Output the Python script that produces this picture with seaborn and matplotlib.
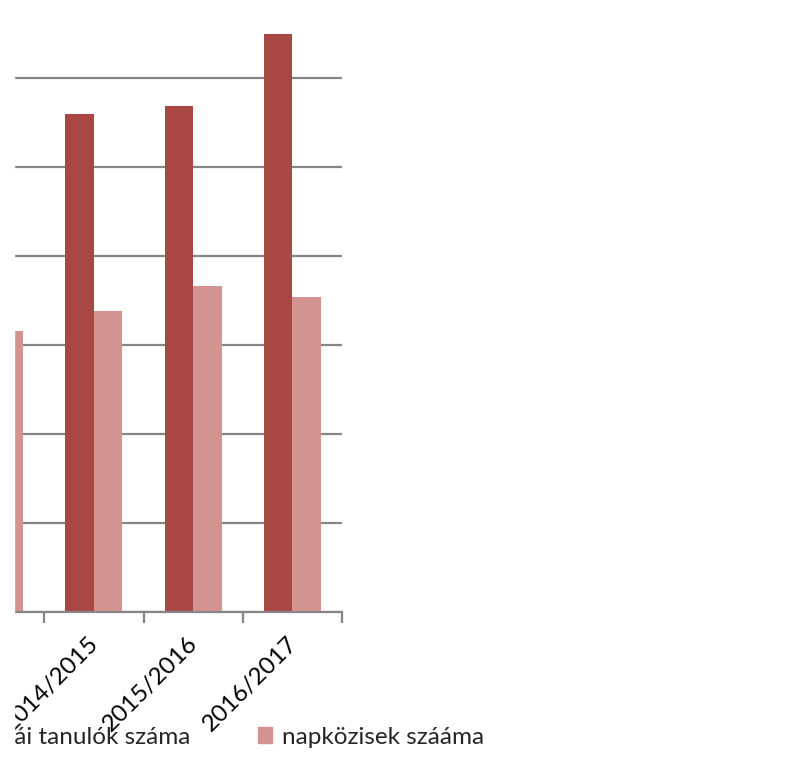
import pandas as pd
import seaborn as sns
import matplotlib.pyplot as plt
import matplotlib.transforms as mtransforms
from matplotlib.patches import Rectangle

# Data (first year is mostly cut off on the left)
years = ['2013/2014', '2014/2015', '2015/2016', '2016/2017']
tanulok = [270, 280, 284, 325]
napkozis = [158, 169, 183, 177]
series_names = ['osztályái tanulók száma', 'napközisek szááma']
colors = ['#A94745', '#D39391']

df = pd.DataFrame({
    'ev': years * 2,
    'ertek': tanulok + napkozis,
    'sorozat': [series_names[0]] * len(years) + [series_names[1]] * len(years),
})

sns.set_style('white')
plt.rcParams['font.family'] = ['Lato', 'DejaVu Sans']

fig = plt.figure(figsize=(8.03, 7.77), dpi=100)
# axes reach past the left and top edges, as in the cropped original
ax = fig.add_axes([14 / 803, 165 / 777, 328 / 803, 623 / 777])

sns.barplot(data=df, x='ev', y='ertek', hue='sorozat', order=years,
            hue_order=series_names, palette=colors, width=0.574,
            linewidth=0, saturation=1, ax=ax, legend=False)

ax.set_yticks(range(0, 351, 50))
ax.yaxis.grid(True, color='#868686', linewidth=1.6)
ax.set_axisbelow(True)
ax.tick_params(axis='y', left=False, labelleft=False)
ax.set_xlabel('')
ax.set_ylabel('')

for s in ['top', 'right', 'left']:
    ax.spines[s].set_visible(False)
ax.spines['bottom'].set_color('#868686')
ax.spines['bottom'].set_linewidth(1.6)

# labels in the middle of each year, tick marks between years
ax.set_xticks(range(len(years)))
ax.set_xticklabels(years, rotation=45, ha='right', rotation_mode='anchor',
                   fontsize=17.5, color='black')
ax.tick_params(axis='x', which='major', length=0, pad=15)
shift = mtransforms.ScaledTranslation(-6 / 100, 0, fig.dpi_scale_trans)
for lab in ax.get_xticklabels():
    lab.set_transform(lab.get_transform() + shift)
ax.set_xticks([i + 0.5 for i in range(-1, len(years))], minor=True)
ax.tick_params(axis='x', which='minor', length=8, width=1.6,
               color='#868686', bottom=True)

ax.set_xlim(0.194, 3.5)
ax.set_ylim(0, 350)

handles = [Rectangle((0, 0), 1, 1, color=c) for c in colors]
ax.legend(handles, series_names, ncol=2, frameon=False, fontsize=17.5,
          loc='center right', bbox_to_anchor=(484 / 803, 40 / 777),
          bbox_transform=fig.transFigure, borderpad=0, borderaxespad=0,
          handlelength=0.6, handleheight=0.6, handletextpad=0.4,
          columnspacing=2.75)

# white strip along the left edge where the original was cut
fig.add_artist(Rectangle((0, 0), 14 / 803, 1, transform=fig.transFigure,
                         color='white', zorder=20))

fig.savefig('out.png', dpi=100)
